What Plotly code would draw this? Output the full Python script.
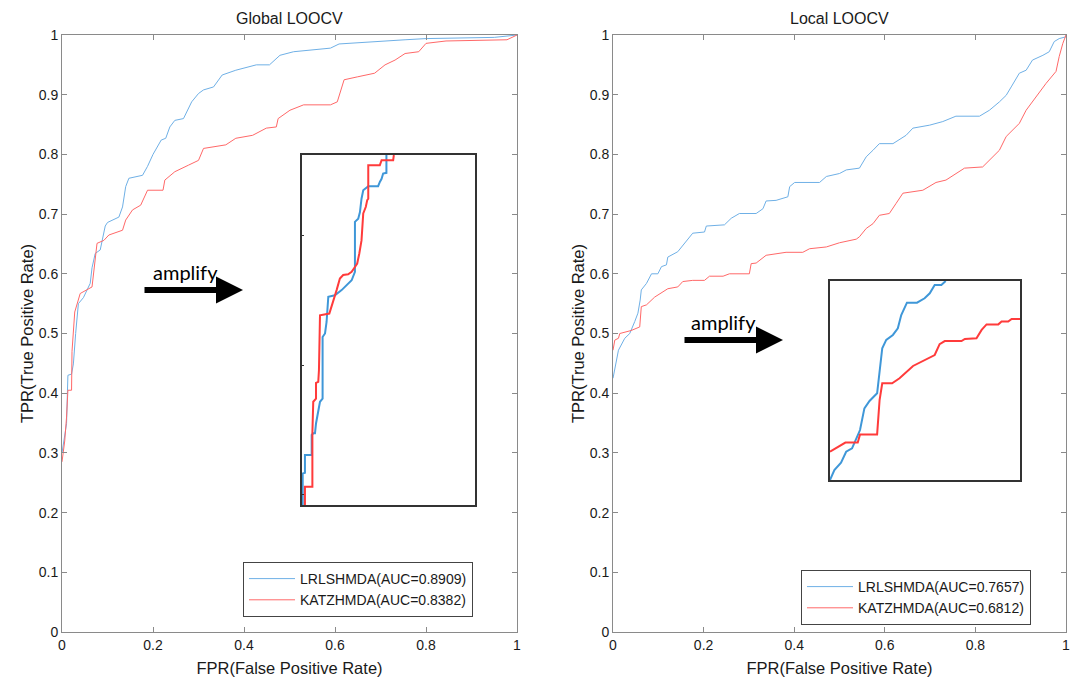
import plotly.graph_objects as go

# ---------------- data ----------------
tick_x_vals = [0, 0.2, 0.4, 0.6, 0.8, 1]
tick_x_text = ["0", "0.2", "0.4", "0.6", "0.8", "1"]
tick_y_vals = [0, 0.1, 0.2, 0.3, 0.4, 0.5, 0.6, 0.7, 0.8, 0.9, 1]
tick_y_text = ["0", "0.1", "0.2", "0.3", "0.4", "0.5", "0.6", "0.7", "0.8", "0.9", "1"]

series_names = ["LRLSHMDA(AUC=0.8909)", "KATZHMDA(AUC=0.8382)"]
series_names_local = ["LRLSHMDA(AUC=0.7657)", "KATZHMDA(AUC=0.6812)"]
panel_titles = ["Global LOOCV", "Local LOOCV"]

# Global LOOCV
g_blue_fpr = [0, 0.006, 0.010, 0.012, 0.013, 0.021, 0.025, 0.030, 0.036, 0.047, 0.062, 0.066, 0.073, 0.084,
              0.095, 0.100, 0.125, 0.133, 0.140, 0.147, 0.177, 0.188, 0.200, 0.218, 0.228, 0.237, 0.248,
              0.267, 0.285, 0.300, 0.311, 0.333, 0.352, 0.382, 0.427, 0.456, 0.479, 0.509, 0.590, 0.609,
              0.680, 0.754, 0.800, 0.950, 1.0]
g_blue_tpr = [0.300, 0.330, 0.349, 0.404, 0.430, 0.432, 0.449, 0.500, 0.550, 0.560, 0.584, 0.610, 0.634, 0.640,
              0.680, 0.686, 0.695, 0.712, 0.746, 0.760, 0.765, 0.780, 0.800, 0.824, 0.827, 0.846, 0.857,
              0.860, 0.888, 0.902, 0.908, 0.913, 0.933, 0.941, 0.950, 0.950, 0.966, 0.972, 0.978, 0.985,
              0.989, 0.992, 0.994, 0.996, 1.0]

g_red_fpr = [0, 0.006, 0.010, 0.012, 0.013, 0.021, 0.022, 0.028, 0.040, 0.066, 0.077, 0.092, 0.103, 0.133,
             0.140, 0.155, 0.173, 0.188, 0.222, 0.226, 0.248, 0.278, 0.300, 0.311, 0.360, 0.382, 0.419,
             0.449, 0.471, 0.475, 0.501, 0.531, 0.590, 0.605, 0.620, 0.650, 0.687, 0.710, 0.732, 0.754,
             0.784, 0.800, 0.844, 0.978, 1.0]
g_red_tpr = [0.285, 0.320, 0.360, 0.388, 0.405, 0.405, 0.470, 0.536, 0.567, 0.578, 0.651, 0.656, 0.665, 0.673,
             0.690, 0.707, 0.715, 0.740, 0.740, 0.757, 0.771, 0.782, 0.790, 0.810, 0.816, 0.827, 0.832,
             0.844, 0.846, 0.860, 0.874, 0.883, 0.883, 0.888, 0.925, 0.930, 0.936, 0.950, 0.958, 0.969,
             0.972, 0.986, 0.990, 0.992, 1.0]

# Local LOOCV
l_blue_fpr = [0, 0.012, 0.026, 0.037, 0.048, 0.055, 0.060, 0.0625, 0.074, 0.085, 0.099, 0.107, 0.118, 0.121,
              0.143, 0.162, 0.176, 0.202, 0.206, 0.246, 0.261, 0.279, 0.316, 0.331, 0.338, 0.360, 0.386,
              0.390, 0.401, 0.456, 0.471, 0.500, 0.515, 0.544, 0.559, 0.574, 0.588, 0.618, 0.647, 0.662,
              0.699, 0.728, 0.757, 0.809, 0.831, 0.853, 0.868, 0.879, 0.897, 0.912, 0.926, 0.949, 0.963,
              0.974, 0.985, 1.0, 1.0]
l_blue_tpr = [0.425, 0.472, 0.492, 0.500, 0.520, 0.534, 0.556, 0.573, 0.584, 0.600, 0.600, 0.612, 0.615, 0.628,
              0.637, 0.656, 0.668, 0.670, 0.680, 0.682, 0.693, 0.701, 0.701, 0.709, 0.722, 0.723, 0.729,
              0.746, 0.753, 0.753, 0.763, 0.768, 0.774, 0.777, 0.796, 0.807, 0.818, 0.818, 0.832, 0.844,
              0.849, 0.855, 0.864, 0.864, 0.874, 0.888, 0.899, 0.913, 0.936, 0.941, 0.958, 0.966, 0.972,
              0.989, 0.994, 0.997, 1.0]

l_red_fpr = [0, 0.004, 0.012, 0.015, 0.040, 0.059, 0.0625, 0.074, 0.092, 0.110, 0.121, 0.143, 0.154, 0.176,
             0.202, 0.213, 0.243, 0.257, 0.301, 0.305, 0.316, 0.338, 0.382, 0.419, 0.434, 0.471, 0.500,
             0.537, 0.544, 0.559, 0.574, 0.588, 0.610, 0.625, 0.640, 0.684, 0.699, 0.713, 0.735, 0.765,
             0.776, 0.816, 0.838, 0.853, 0.868, 0.882, 0.897, 0.912, 0.934, 0.956, 0.978, 0.985, 0.993, 1.0]
l_red_tpr = [0.472, 0.489, 0.492, 0.500, 0.505, 0.511, 0.545, 0.548, 0.561, 0.570, 0.575, 0.578, 0.587, 0.589,
             0.589, 0.596, 0.596, 0.600, 0.600, 0.617, 0.618, 0.631, 0.636, 0.636, 0.642, 0.645, 0.652,
             0.658, 0.662, 0.676, 0.684, 0.698, 0.701, 0.718, 0.735, 0.740, 0.746, 0.753, 0.757, 0.771,
             0.777, 0.779, 0.796, 0.807, 0.830, 0.841, 0.852, 0.874, 0.897, 0.919, 0.939, 0.964, 0.986, 1.0]

# Amplified insets (normalised inset coordinates)
gi_blue_u = [0.004, 0.004, 0.017, 0.017, 0.056, 0.056, 0.065, 0.075, 0.081, 0.090, 0.104, 0.119, 0.119, 0.133,
             0.142, 0.152, 0.190, 0.229, 0.287, 0.306, 0.306, 0.325, 0.335, 0.344, 0.354, 0.383, 0.440,
             0.450, 0.460, 0.469, 0.488, 0.488]
gi_blue_v = [0.0, 0.090, 0.092, 0.143, 0.143, 0.200, 0.205, 0.205, 0.233, 0.257, 0.295, 0.304, 0.480, 0.490,
             0.523, 0.595, 0.599, 0.614, 0.642, 0.666, 0.809, 0.818, 0.837, 0.875, 0.899, 0.911, 0.911,
             0.923, 0.932, 0.947, 0.949, 1.0]
gi_red_u = [0.017, 0.017, 0.060, 0.060, 0.065, 0.081, 0.081, 0.094, 0.098, 0.104, 0.158, 0.171, 0.181, 0.200,
            0.219, 0.238, 0.267, 0.287, 0.306, 0.319, 0.331, 0.344, 0.354, 0.369, 0.377, 0.383, 0.383,
            0.450, 0.460, 0.527, 0.531]
gi_red_v = [0.0, 0.052, 0.052, 0.205, 0.295, 0.304, 0.349, 0.352, 0.385, 0.542, 0.547, 0.566, 0.585, 0.614,
            0.647, 0.657, 0.659, 0.666, 0.680, 0.690, 0.718, 0.756, 0.833, 0.852, 0.871, 0.875, 0.971,
            0.971, 0.985, 0.985, 1.0]
gi_ticks = [0.029, 0.4, 0.771]

li_blue_u = [0.0, 0.023, 0.058, 0.085, 0.116, 0.137, 0.158, 0.181, 0.208, 0.248, 0.261, 0.275, 0.296, 0.331,
             0.357, 0.375, 0.405, 0.458, 0.498, 0.525, 0.551, 0.586, 0.609]
li_blue_v = [0.0, 0.050, 0.087, 0.142, 0.159, 0.201, 0.251, 0.360, 0.397, 0.436, 0.553, 0.662, 0.704, 0.729,
             0.762, 0.829, 0.891, 0.891, 0.913, 0.938, 0.980, 0.980, 1.0]
li_red_u = [0.0, 0.081, 0.146, 0.158, 0.248, 0.261, 0.275, 0.327, 0.366, 0.437, 0.551, 0.577, 0.604, 0.692,
            0.710, 0.771, 0.798, 0.824, 0.886, 0.903, 0.938, 0.956, 1.0]
li_red_v = [0.142, 0.188, 0.188, 0.229, 0.229, 0.402, 0.486, 0.486, 0.511, 0.573, 0.628, 0.683, 0.698, 0.698,
            0.709, 0.712, 0.754, 0.782, 0.782, 0.796, 0.796, 0.809, 0.809]

# ---------------- styling ----------------
W, H = 1078, 680
BLUE = "#6FB0E6"
RED = "#FF6868"
IBLUE = "#3F97D8"
IRED = "#FF3B3B"
FONT = "Liberation Sans, Arial, sans-serif"
FRAME = "#8a8a8a"
TXT = "#1a1a1a"


def px(x):
    return x / W


def py(y):
    return (H - y) / H


fig = go.Figure()

# main curves
fig.add_trace(go.Scatter(x=g_blue_fpr, y=g_blue_tpr, mode="lines", name=series_names[0],
                         line=dict(color=BLUE, width=1), xaxis="x", yaxis="y", legend="legend"))
fig.add_trace(go.Scatter(x=g_red_fpr, y=g_red_tpr, mode="lines", name=series_names[1],
                         line=dict(color=RED, width=1), xaxis="x", yaxis="y", legend="legend"))
fig.add_trace(go.Scatter(x=l_blue_fpr, y=l_blue_tpr, mode="lines", name=series_names_local[0],
                         line=dict(color=BLUE, width=1), xaxis="x2", yaxis="y2", legend="legend2"))
fig.add_trace(go.Scatter(x=l_red_fpr, y=l_red_tpr, mode="lines", name=series_names_local[1],
                         line=dict(color=RED, width=1), xaxis="x2", yaxis="y2", legend="legend2"))
# insets
fig.add_trace(go.Scatter(x=gi_blue_u, y=gi_blue_v, mode="lines", showlegend=False,
                         line=dict(color=IBLUE, width=2), xaxis="x3", yaxis="y3"))
fig.add_trace(go.Scatter(x=gi_red_u, y=gi_red_v, mode="lines", showlegend=False,
                         line=dict(color=IRED, width=2), xaxis="x3", yaxis="y3"))
fig.add_trace(go.Scatter(x=li_blue_u, y=li_blue_v, mode="lines", showlegend=False,
                         line=dict(color=IBLUE, width=2), xaxis="x4", yaxis="y4"))
fig.add_trace(go.Scatter(x=li_red_u, y=li_red_v, mode="lines", showlegend=False,
                         line=dict(color=IRED, width=2), xaxis="x4", yaxis="y4"))

main_x = dict(range=[0, 1], tickvals=tick_x_vals, ticktext=tick_x_text, ticks="inside", ticklen=5,
              tickcolor=FRAME, showline=True, linecolor=FRAME, linewidth=1, mirror="ticks",
              showgrid=False, zeroline=False, automargin=False, ticklabeloverflow="allow",
              tickfont=dict(size=14, color=TXT, family=FONT),
              title=dict(text="FPR(False Positive Rate)", font=dict(size=16.5, color=TXT, family=FONT),
                         standoff=10))
main_y = dict(range=[0, 1], tickvals=tick_y_vals, ticktext=tick_y_text, ticks="inside", ticklen=5,
              tickcolor=FRAME, showline=True, linecolor=FRAME, linewidth=1, mirror="ticks",
              showgrid=False, zeroline=False, automargin=False, ticklabeloverflow="allow",
              tickfont=dict(size=14, color=TXT, family=FONT),
              title=dict(text="TPR(True Positive Rate)", font=dict(size=16.5, color=TXT, family=FONT),
                         standoff=0))

inset_common = dict(range=[0, 1], showline=True, linecolor="#333333", linewidth=1.5, mirror=True,
                    showgrid=False, zeroline=False, showticklabels=False, automargin=False)

legend_common = dict(xanchor="left", yanchor="top", bgcolor="white", bordercolor="#444444", borderwidth=1,
                     font=dict(size=14, family=FONT, color=TXT), tracegroupgap=0, itemwidth=46)

lay = dict(
    width=W, height=H, margin=dict(l=0, r=0, t=0, b=0, autoexpand=False),
    paper_bgcolor="white", plot_bgcolor="white",
    font=dict(family=FONT, color=TXT),
    xaxis=dict(main_x, domain=[px(62), px(517)], anchor="y"),
    yaxis=dict(main_y, domain=[py(632), py(35)], anchor="x"),
    xaxis2=dict(main_x, domain=[px(613), px(1066)], anchor="y2"),
    yaxis2=dict(main_y, domain=[py(632), py(35)], anchor="x2"),
    xaxis3=dict(inset_common, domain=[px(302), px(475)], anchor="y3", ticks=""),
    yaxis3=dict(inset_common, domain=[py(505), py(155)], anchor="x3", ticks="inside", ticklen=2,
                tickcolor="#333333", tickvals=gi_ticks),
    xaxis4=dict(inset_common, domain=[px(830), px(1020)], anchor="y4", ticks=""),
    yaxis4=dict(inset_common, domain=[py(480), py(281)], anchor="x4", ticks=""),
    legend=dict(legend_common, x=px(243), y=py(562)),
    legend2=dict(legend_common, x=px(801), y=py(570)),
    showlegend=True,
)
fig.update_layout(**lay)

# panel titles
for t, cx in zip(panel_titles, [(62 + 517) / 2, (613 + 1066) / 2]):
    fig.add_annotation(text=t, x=px(cx), y=py(18), xref="paper", yref="paper", showarrow=False,
                       font=dict(size=16, family=FONT, color=TXT), xanchor="center", yanchor="middle")

# "amplify" labels and arrows
for tx, ty, hx, hy in [(185, 272, 243, 290), (723, 322, 783, 340)]:
    fig.add_annotation(text="amplify", x=px(tx), y=py(ty), xref="paper", yref="paper", showarrow=False,
                       font=dict(size=20, family="Lato, Carlito, sans-serif", color="black"),
                       xanchor="center", yanchor="middle")
    fig.add_annotation(text="", x=px(hx), y=py(hy), xref="paper", yref="paper", showarrow=True,
                       ax=-100, ay=0, arrowhead=2, arrowsize=0.9, arrowwidth=6, arrowcolor="black")

fig.write_html("out.html", config={"displayModeBar": False},
               post_script="document.body.style.margin='0';document.body.style.overflow='hidden';")
